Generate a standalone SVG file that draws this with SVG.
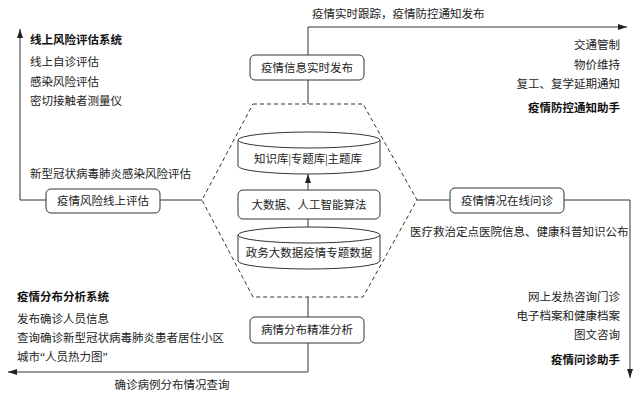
<svg xmlns="http://www.w3.org/2000/svg" width="640" height="400" viewBox="0 0 640 400">
<defs>
<marker id="ah" markerWidth="10" markerHeight="8" refX="9" refY="4" orient="auto" markerUnits="userSpaceOnUse">
<path d="M0,1 L9,4 L0,7 Z" fill="#222"/>
</marker>
<style>
.t{font-family:"Liberation Serif","Noto Sans CJK SC",serif;font-size:11.5px;fill:#222}
.b{font-family:"Noto Sans CJK SC","Liberation Sans",sans-serif;font-size:11.5px;font-weight:bold;fill:#111}
.box{fill:#fff;stroke:#333;stroke-width:1}
.ln{fill:none;stroke:#333;stroke-width:1}
.dash{fill:none;stroke:#333;stroke-width:1;stroke-dasharray:4,3}
.r{text-anchor:end}
.m{text-anchor:middle}
</style>
</defs>
<rect width="640" height="400" fill="#fff"/>
<g id="connectors">
<polyline class="ln" points="308,55 308,27 627,27" marker-end="url(#ah)"/>
<line class="ln" x1="308" y1="80" x2="308" y2="104"/>
<polyline class="ln" points="46,200 20,200 20,29" marker-end="url(#ah)"/>
<line class="ln" x1="160" y1="200" x2="202" y2="200"/>
<line class="ln" x1="417" y1="200" x2="450" y2="200"/>
<polyline class="ln" points="564,200 630,200 630,378" marker-end="url(#ah)"/>
<line class="ln" x1="308" y1="297" x2="308" y2="317"/>
<polyline class="ln" points="308,343 308,372 8,372" marker-end="url(#ah)"/>
<line class="ln" x1="308" y1="190" x2="308" y2="174" marker-end="url(#ah)"/>
<line class="ln" x1="308" y1="219" x2="308" y2="227"/>
</g>
<g id="hexagon">
<polygon class="dash" points="253,104 363,104 417,200 363,297 253,297 202,200"/>
</g>
<g id="node-publish">
<rect class="box" x="250" y="55" width="114" height="25" rx="5"/>
<text class="t m" x="307" y="72">疫情信息实时发布</text>
</g>
<g id="node-risk">
<rect class="box" x="46" y="189" width="114" height="24" rx="5"/>
<text class="t m" x="103" y="205">疫情风险线上评估</text>
</g>
<g id="node-consult">
<rect class="box" x="450" y="188" width="114" height="25" rx="5"/>
<text class="t m" x="507" y="205">疫情情况在线问诊</text>
</g>
<g id="node-distribution">
<rect class="box" x="250" y="317" width="114" height="26" rx="5"/>
<text class="t m" x="307" y="334">病情分布精准分析</text>
</g>
<g id="node-knowledge">
<path class="box" d="M238,140 L238,166 A71,8 0 0 0 380,166 L380,140 A71,8 0 0 0 238,140 A71,8 0 0 0 380,140"/>
<text class="t m" x="308" y="163">知识库|专题库|主题库</text>
</g>
<g id="node-algorithm">
<rect class="box" x="238" y="190" width="142" height="29" rx="5"/>
<text class="t m" x="309" y="209">大数据、人工智能算法</text>
</g>
<g id="node-govdata">
<path class="box" d="M238,235 L238,261 A71,8 0 0 0 380,261 L380,235 A71,8 0 0 0 238,235 A71,8 0 0 0 380,235"/>
<text class="t m" x="309" y="257">政务大数据疫情专题数据</text>
</g>
<g id="labels">
<text class="t" x="312" y="18">疫情实时跟踪，疫情防控通知发布</text>
<text class="b" x="30" y="44">线上风险评估系统</text>
<text class="t" x="30" y="66">线上自诊评估</text>
<text class="t" x="30" y="86">感染风险评估</text>
<text class="t" x="30" y="105">密切接触者测量仪</text>
<text class="t" x="30" y="178">新型冠状病毒肺炎感染风险评估</text>
<text class="t r" x="620" y="49">交通管制</text>
<text class="t r" x="620" y="69">物价维持</text>
<text class="t r" x="620" y="88">复工、复学延期通知</text>
<text class="b r" x="620" y="112">疫情防控通知助手</text>
<text class="t" x="410" y="236">医疗救治定点医院信息、健康科普知识公布</text>
<text class="t r" x="620" y="301">网上发热咨询门诊</text>
<text class="t r" x="620" y="320">电子档案和健康档案</text>
<text class="t r" x="620" y="339">图文咨询</text>
<text class="b r" x="620" y="364">疫情问诊助手</text>
<text class="b" x="17" y="301">疫情分布分析系统</text>
<text class="t" x="17" y="323">发布确诊人员信息</text>
<text class="t" x="17" y="342">查询确诊新型冠状病毒肺炎患者居住小区</text>
<text class="t" x="17" y="361">城市“人员热力图”</text>
<text class="t m" x="172" y="389">确诊病例分布情况查询</text>
</g>
</svg>
